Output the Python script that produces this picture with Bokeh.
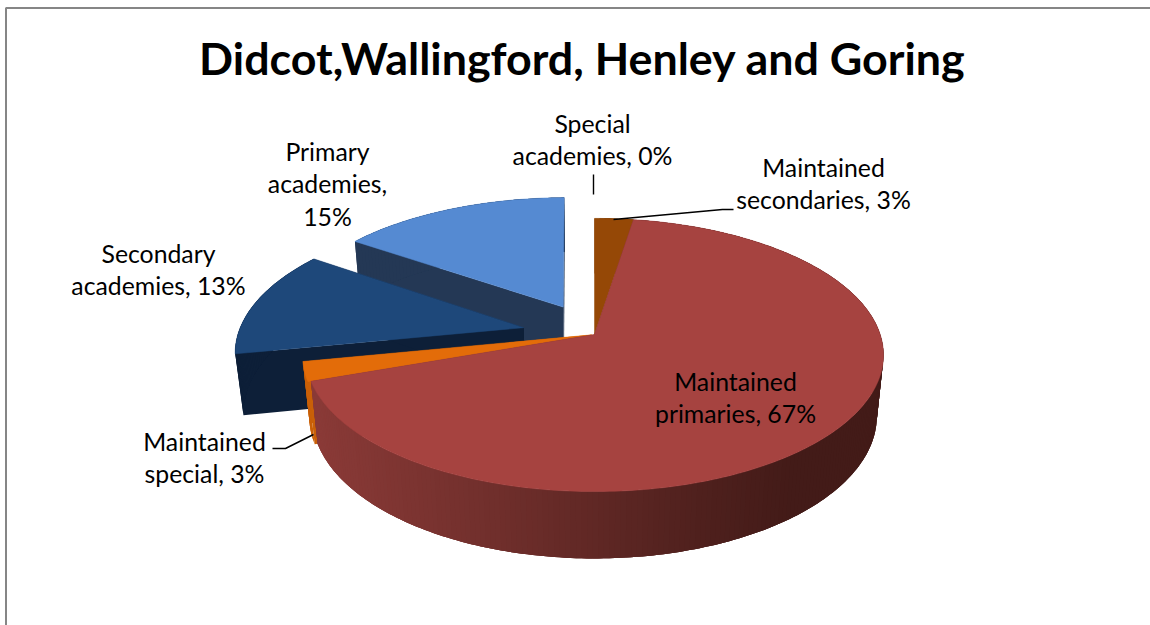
import numpy as np
from bokeh.plotting import figure
from bokeh.models import Range1d
from bokeh.core.properties import value
from bokeh.embed import file_html
from bokeh.resources import INLINE

# ---- data -------------------------------------------------------------
title_text = "Didcot,Wallingford, Henley and Goring"
categories = ["Maintained secondaries", "Maintained primaries", "Maintained special",
              "Secondary academies", "Primary academies", "Special academies"]
shares = [2.5, 67.1, 2.3, 12.7, 15.2, 0.2]          # slice sizes, %
explode = [0.0, 0.0, 0.01, 0.255, 0.24, 0.0]
top_colors = ["#954806", "#a64340", "#e36c09", "#1e487a", "#558ad2", "#7f7f7f"]
side_colors = ["#6b3404", "#6f2e2b", "#c96008", "#0d1f38", "#243855", "#555555"]
paint_order = [0, 4, 3, 2, 1]

label_lines = [
    ("Special", 592, 123), ("academies, 0%", 592, 155),
    ("Maintained", 823, 167), ("secondaries, 3%", 823, 199),
    ("Primary", 327, 151), ("academies,", 327, 183), ("15%", 327, 216),
    ("Secondary", 158, 253), ("academies, 13%", 158, 285),
    ("Maintained", 735, 381), ("primaries, 67%", 735, 413),
    ("Maintained", 204, 441), ("special, 3%", 204, 473),
]
leaders = [
    ([593, 593], [174, 194]),
    ([613, 722, 733], [219, 209, 209]),
    ([272, 285, 313], [448, 448, 434]),
]

# ---- perspective model of the pie ---------------------------------------
CX, CY = 594.0, 334.0
R, S, K = 285.7, 133.5, 0.15
M, H = 0.023, 62.0


def project(u, v, bottom=False):
    u, v = np.asarray(u, float), np.asarray(v, float)
    if bottom:
        w = 1 - K * v + M
        return CX + R * u / w, CY + (S * v + H) / w
    w = 1 - K * v
    return CX + R * u / w, CY + S * v / w


def side_shade(x):
    stops_x = [305, 500, 700, 800, 890]
    stops = np.array([[0x8c, 0x3b, 0x38], [0x70, 0x2f, 0x2c], [0x50, 0x21, 0x1e],
                      [0x43, 0x1b, 0x18], [0x43, 0x1b, 0x18]])
    rgb = [int(np.interp(x, stops_x, stops[:, i])) for i in range(3)]
    return "#%02x%02x%02x" % tuple(rgb)


p = figure(width=1150, height=625, output_backend="svg", toolbar_location=None,
           x_range=Range1d(0, 1150), y_range=Range1d(625, 0),
           min_border=0, outline_line_color=None)
p.axis.visible = False
p.grid.visible = False
p.background_fill_color = "white"

# chart frame
p.line([5.5, 5.5, 1150], [625, 7.5, 7.5], line_color="#868686", line_width=2)

edges = np.cumsum([0] + shares) * 3.6 * np.pi / 180
for i in paint_order:
    a0, a1 = edges[i], edges[i + 1]
    mid = (a0 + a1) / 2
    ox, oy = explode[i] * np.sin(mid), -explode[i] * np.cos(mid)
    th = np.linspace(a0, a1, max(8, int((a1 - a0) * 60)))
    u, v = ox + np.sin(th), oy - np.cos(th)
    tx, ty = project(u, v)
    bx, by = project(u, v, True)
    ax_t, ay_t = project(ox, oy)
    ax_b, ay_b = project(ox, oy, True)
    # cut faces
    for k in (0, -1):
        p.patch([ax_t, tx[k], bx[k], ax_b], [ay_t, ty[k], by[k], ay_b],
                fill_color=side_colors[i], line_color=None)
    # outer wall: each band overlaps the next one so that no seams show
    xs, ys, cols = [], [], []
    n = len(th)
    for j in range(n - 1):
        e = min(j + 3, n - 1)
        xs.append([tx[j], *tx[j + 1:e + 1], *bx[j + 1:e + 1][::-1], bx[j]])
        ys.append([ty[j], *ty[j + 1:e + 1], *by[j + 1:e + 1][::-1], by[j]])
        cols.append(side_shade(tx[j]) if i == 1 else side_colors[i])
    p.patches(xs, ys, fill_color=cols, line_color=None)
    # top face
    p.patch([ax_t, *tx], [ay_t, *ty], fill_color=top_colors[i],
            line_color=top_colors[i], line_width=0.5)

for lx, ly in leaders:
    p.line(lx, ly, line_color="black", line_width=1.4)

p.text(x=[t[1] for t in label_lines], y=[t[2] for t in label_lines],
       text=[t[0] for t in label_lines], text_font=value("Lato"),
       text_font_size="24.8px", text_color="black",
       text_align="center", text_baseline="middle")
p.text(x=[582], y=[57], text=[title_text], text_font=value("Lato"),
       text_font_size="44.8px", text_font_style="bold", text_color="black",
       text_align="center", text_baseline="middle")

open("out.html", "w").write(file_html(p, INLINE))
